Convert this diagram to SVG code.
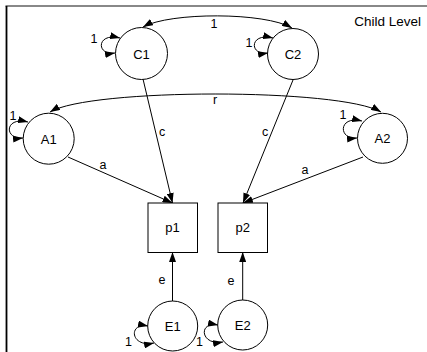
<svg xmlns="http://www.w3.org/2000/svg" width="427" height="352" viewBox="0 0 427 352">
<style>
text{font-family:"Liberation Sans",Arial,sans-serif;fill:#000}
.lbl{font-size:12.5px}
.nl{font-size:13px;text-anchor:middle}
.node{fill:#fff;stroke:#000;stroke-width:1}
.edge{fill:none;stroke:#000;stroke-width:1;marker-end:url(#ah)}
.dbl{fill:none;stroke:#000;stroke-width:1;marker-start:url(#ah);marker-end:url(#ah)}
</style>
<defs>
<marker id="ah" markerWidth="10" markerHeight="7" refX="10" refY="3.5" orient="auto-start-reverse" markerUnits="userSpaceOnUse">
<path d="M0,0 L10,3.5 L0,7 z" fill="#000"/>
</marker>
</defs>
<rect width="427" height="352" fill="#fff"/>
<line x1="5.5" y1="6" x2="427" y2="6" stroke="#888" stroke-width="2"/>
<line x1="6.5" y1="6" x2="6.5" y2="352" stroke="#000" stroke-width="1.8"/>
<text x="421" y="26" style="font-size:13.5px;text-anchor:end">Child Level</text>
<g id="connectors">
<path class="dbl" d="M143,27 C170,12 265,12 292,28"/>
<path class="dbl" d="M50,112 C90,88 340,88 381,112"/>
<path class="dbl" d="M120,38 C96,32 96,56 115,53"/>
<path class="dbl" d="M273,38 C249,32 249,56 268,53"/>
<path class="dbl" d="M28,122 C4,116 4,140 23,138"/>
<path class="dbl" d="M362,121 C338,115 338,140 357,138"/>
<path class="dbl" d="M148,326 C128,322 130,348 154,343"/>
<path class="dbl" d="M218,325 C198,321 200,346 223,342"/>
<path class="edge" d="M143,79 L172.5,203"/>
<path class="edge" d="M293,80 L243,203"/>
<path class="edge" d="M68,157 L172.5,203"/>
<path class="edge" d="M363,157 L243,203"/>
<path class="edge" d="M172.5,301 L172.5,252"/>
<path class="edge" d="M242.7,300 L242.7,252"/>
<text class="lbl" x="214" y="28" text-anchor="middle">1</text>
<text class="lbl" x="215" y="104" text-anchor="middle">r</text>
<text class="lbl" x="94" y="43" text-anchor="middle">1</text>
<text class="lbl" x="249" y="47" text-anchor="middle">1</text>
<text class="lbl" x="13" y="120" text-anchor="middle">1</text>
<text class="lbl" x="343" y="118.5" text-anchor="middle">1</text>
<text class="lbl" x="128.5" y="346" text-anchor="middle">1</text>
<text class="lbl" x="199.5" y="346" text-anchor="middle">1</text>
<text class="lbl" x="162" y="136" text-anchor="middle">c</text>
<text class="lbl" x="265" y="136" text-anchor="middle">c</text>
<text class="lbl" x="103" y="169" text-anchor="middle">a</text>
<text class="lbl" x="305" y="174" text-anchor="middle">a</text>
<text class="lbl" x="162" y="284" text-anchor="middle">e</text>
<text class="lbl" x="231" y="285" text-anchor="middle">e</text>
</g>
<g id="C1"><circle class="node" cx="141.5" cy="53.5" r="26"/><text class="nl" x="141.5" y="58.5">C1</text></g>
<g id="C2"><circle class="node" cx="293" cy="54" r="25.5"/><text class="nl" x="293" y="59">C2</text></g>
<g id="A1"><circle class="node" cx="48.7" cy="138.7" r="25.5"/><text class="nl" x="48.7" y="143.5">A1</text></g>
<g id="A2"><circle class="node" cx="382.5" cy="138.3" r="25"/><text class="nl" x="382.5" y="143">A2</text></g>
<g id="p1"><rect class="node" x="148" y="203" width="49.5" height="49.5"/><text class="nl" x="172.5" y="232">p1</text></g>
<g id="p2"><rect class="node" x="218" y="203" width="49.5" height="49.5"/><text class="nl" x="242.7" y="232">p2</text></g>
<g id="E1"><circle class="node" cx="172.7" cy="326" r="25"/><text class="nl" x="172.7" y="331">E1</text></g>
<g id="E2"><circle class="node" cx="242.7" cy="325" r="25"/><text class="nl" x="242.7" y="330">E2</text></g>
</svg>
